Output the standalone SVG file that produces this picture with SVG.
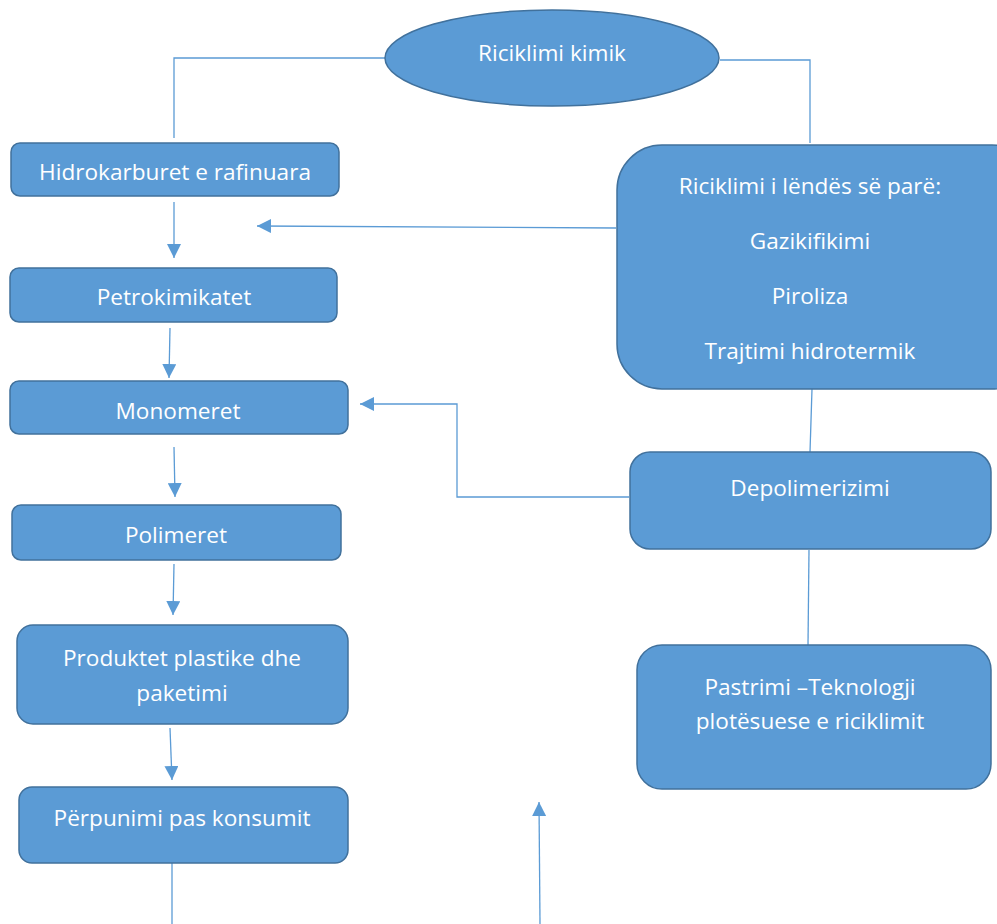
<svg xmlns="http://www.w3.org/2000/svg" width="997" height="924" viewBox="0 0 997 924">
<defs>
<style>
.n{fill:#5B9BD5;stroke:#41719C;stroke-width:1.5}
.t{fill:#fff;font-family:"Open Sans","Liberation Sans",sans-serif;font-size:22.6px;text-anchor:middle}
.c{fill:none;stroke:#5B9BD5;stroke-width:1.3}
</style>
<marker id="ah" viewBox="0 0 10 10" refX="10" refY="5" markerWidth="14" markerHeight="14" markerUnits="userSpaceOnUse" orient="auto">
<path d="M0,0 L10,5 L0,10 z" fill="#5B9BD5"/>
</marker>
</defs>
<rect width="997" height="924" fill="#fff"/>
<g id="connectors">
<polyline class="c" points="385,58 174,58 174,138"/>
<polyline class="c" points="720,60 810,60 810,143"/>
<line class="c" x1="174" y1="202" x2="174" y2="258" marker-end="url(#ah)"/>
<line class="c" x1="616" y1="228" x2="257" y2="226" marker-end="url(#ah)"/>
<line class="c" x1="170" y1="328" x2="169" y2="378" marker-end="url(#ah)"/>
<polyline class="c" points="629,497 457,497 457,404 360,404" marker-end="url(#ah)"/>
<line class="c" x1="174" y1="447" x2="175" y2="497" marker-end="url(#ah)"/>
<line class="c" x1="174" y1="564" x2="173" y2="615" marker-end="url(#ah)"/>
<line class="c" x1="170" y1="728" x2="172" y2="780" marker-end="url(#ah)"/>
<line class="c" x1="172" y1="863" x2="172" y2="924"/>
<line class="c" x1="540" y1="924" x2="539" y2="802" marker-end="url(#ah)"/>
<line class="c" x1="812" y1="389" x2="810" y2="452"/>
<line class="c" x1="809" y1="550" x2="808" y2="645"/>
</g>
<g id="riciklimi-kimik">
<ellipse class="n" cx="552" cy="58" rx="167" ry="48"/>
<text class="t" x="552" y="61">Riciklimi kimik</text>
</g>
<g id="hidrokarburet">
<rect class="n" x="11" y="143" width="328" height="53" rx="9"/>
<text class="t" x="175" y="180">Hidrokarburet e rafinuara</text>
</g>
<g id="petrokimikatet">
<rect class="n" x="10" y="268" width="327" height="54" rx="9"/>
<text class="t" x="174" y="305">Petrokimikatet</text>
</g>
<g id="monomeret">
<rect class="n" x="10" y="381" width="338" height="53" rx="9"/>
<text class="t" x="178" y="419">Monomeret</text>
</g>
<g id="polimeret">
<rect class="n" x="12" y="505" width="329" height="55" rx="9"/>
<text class="t" x="176" y="543">Polimeret</text>
</g>
<g id="produktet">
<rect class="n" x="17" y="625" width="331" height="99" rx="16"/>
<text class="t" x="182" y="666">Produktet plastike dhe</text>
<text class="t" x="182" y="701">paketimi</text>
</g>
<g id="perpunimi">
<rect class="n" x="19" y="787" width="329" height="76" rx="13"/>
<text class="t" x="182" y="826">Përpunimi pas konsumit</text>
</g>
<g id="riciklimi-lendes">
<rect class="n" x="617" y="145" width="420" height="244" rx="45"/>
<text class="t" x="810" y="194">Riciklimi i lëndës së parë:</text>
<text class="t" x="810" y="249">Gazikifikimi</text>
<text class="t" x="810" y="304">Piroliza</text>
<text class="t" x="810" y="359">Trajtimi hidrotermik</text>
</g>
<g id="depolimerizimi">
<rect class="n" x="630" y="452" width="361" height="97" rx="20"/>
<text class="t" x="810" y="496">Depolimerizimi</text>
</g>
<g id="pastrimi">
<rect class="n" x="637" y="645" width="354" height="144" rx="25"/>
<text class="t" x="810" y="695">Pastrimi –Teknologji</text>
<text class="t" x="810" y="729">plotësuese e riciklimit</text>
</g>
</svg>
